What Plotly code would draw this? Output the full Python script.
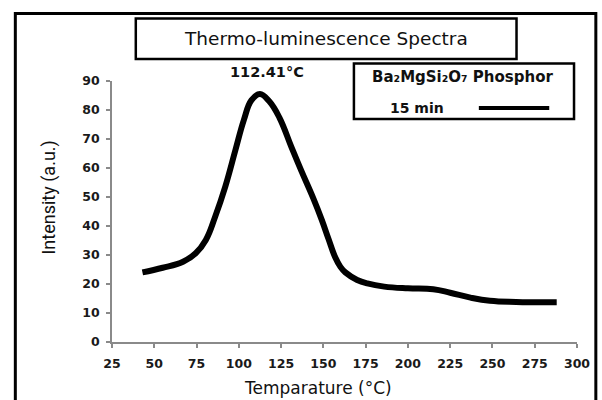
import plotly.graph_objects as go

# ---- data ----
temperature = [43, 55, 67, 74.5, 80.5, 86, 92, 98, 103, 107.5, 112.5, 118, 124,
               131, 137, 144, 149, 153, 157, 160, 163, 170, 176, 186, 200, 215, 225, 237,
               248.5, 264, 288]
intensity = [24.0, 25.6, 27.7, 30.6, 35.2, 43.2, 53.6, 66.2, 76.6, 83.4, 85.5, 83.0, 77.4,
             67.4, 59.0, 49.6, 42.2, 35.6, 29.2, 26.0, 24.0, 21.4, 20.2, 19.1, 18.5, 18.2, 17.0, 15.3,
             14.2, 13.8, 13.7]
x_ticks = [25, 50, 75, 100, 125, 150, 175, 200, 225, 250, 275, 300]
y_ticks = [0, 10, 20, 30, 40, 50, 60, 70, 80, 90]
chart_title = "Thermo-luminescence Spectra"
peak_label = "112.41°C"
legend_title = "Ba₂MgSi₂O₇ Phosphor"
series_name = "15 min"
x_title = "Temparature (°C)"
y_title = "Intensity (a.u.)"

W, H = 602, 400
L, R, T, B = 112, 21, 81, 58
PW, PH = W - L - R, H - T - B


def px(x):
    return (x - L) / PW


def py(y):
    return (H - B - y) / PH


fig = go.Figure()
fig.add_trace(go.Scatter(x=temperature, y=intensity, mode="lines",
                         line=dict(color="black", width=6, shape="spline", smoothing=1.2),
                         name=series_name, showlegend=False, hoverinfo="skip"))

axis_common = dict(showgrid=False, zeroline=False, showline=True, linecolor="#8a8a8a",
                   linewidth=1.5, ticks="outside", tickcolor="#8a8a8a", ticklen=4,
                   tickwidth=1.5,
                   tickfont=dict(family="DejaVu Sans", size=12.5, color="#1a1a1a", weight="bold"))

fig.update_xaxes(range=[25, 300], tickvals=x_ticks, ticktext=[str(v) for v in x_ticks],
                 ticklabelstandoff=5, **axis_common)
fig.update_yaxes(range=[0, 90], tickvals=y_ticks, ticktext=[str(v) for v in y_ticks],
                 ticklabelstandoff=4, **axis_common)

shapes = [
    # outer frame
    dict(type="rect", xref="paper", yref="paper", x0=px(14.5), x1=px(600), y0=py(404), y1=py(13.5),
         line=dict(color="black", width=3)),
    # title box
    dict(type="rect", xref="paper", yref="paper", x0=px(136), x1=px(520), y0=py(59), y1=py(18.5),
         line=dict(color="black", width=2.5)),
    # legend box
    dict(type="rect", xref="paper", yref="paper", x0=px(356), x1=px(578), y0=py(119), y1=py(63.5),
         line=dict(color="black", width=2.5)),
    # legend sample line
    dict(type="line", xref="paper", yref="paper", x0=px(482), x1=px(553), y0=py(108), y1=py(108),
         line=dict(color="black", width=4)),
]

annotations = [
    dict(text=chart_title, x=px(328), y=py(38.5), xref="paper", yref="paper", showarrow=False,
         xanchor="center", yanchor="middle",
         font=dict(family="DejaVu Sans", size=18.5, color="#111")),
    dict(text=peak_label, x=px(268), y=py(72), xref="paper", yref="paper", showarrow=False,
         xanchor="center", yanchor="middle",
         font=dict(family="DejaVu Sans", size=14.5, color="#111", weight="bold")),
    dict(text=legend_title, x=px(466), y=py(77), xref="paper", yref="paper", showarrow=False,
         xanchor="center", yanchor="middle",
         font=dict(family="DejaVu Sans", size=15, color="#111", weight="bold")),
    dict(text=series_name, x=px(390), y=py(108), xref="paper", yref="paper", showarrow=False,
         xanchor="left", yanchor="middle",
         font=dict(family="DejaVu Sans", size=14, color="#111", weight="bold")),
    dict(text=x_title, x=px(320), y=py(388), xref="paper", yref="paper", showarrow=False,
         xanchor="center", yanchor="middle",
         font=dict(family="DejaVu Sans", size=17, color="#111")),
    dict(text=y_title, x=px(48), y=py(198), xref="paper", yref="paper", showarrow=False,
         xanchor="center", yanchor="middle", textangle=-90,
         font=dict(family="Roboto", size=18, color="#111")),
]

fig.update_layout(width=W, height=H, margin=dict(l=L, r=R, t=T, b=B, pad=0),
                  paper_bgcolor="white", plot_bgcolor="white", showlegend=False,
                  shapes=shapes, annotations=annotations)

fig.write_html("out.html")
